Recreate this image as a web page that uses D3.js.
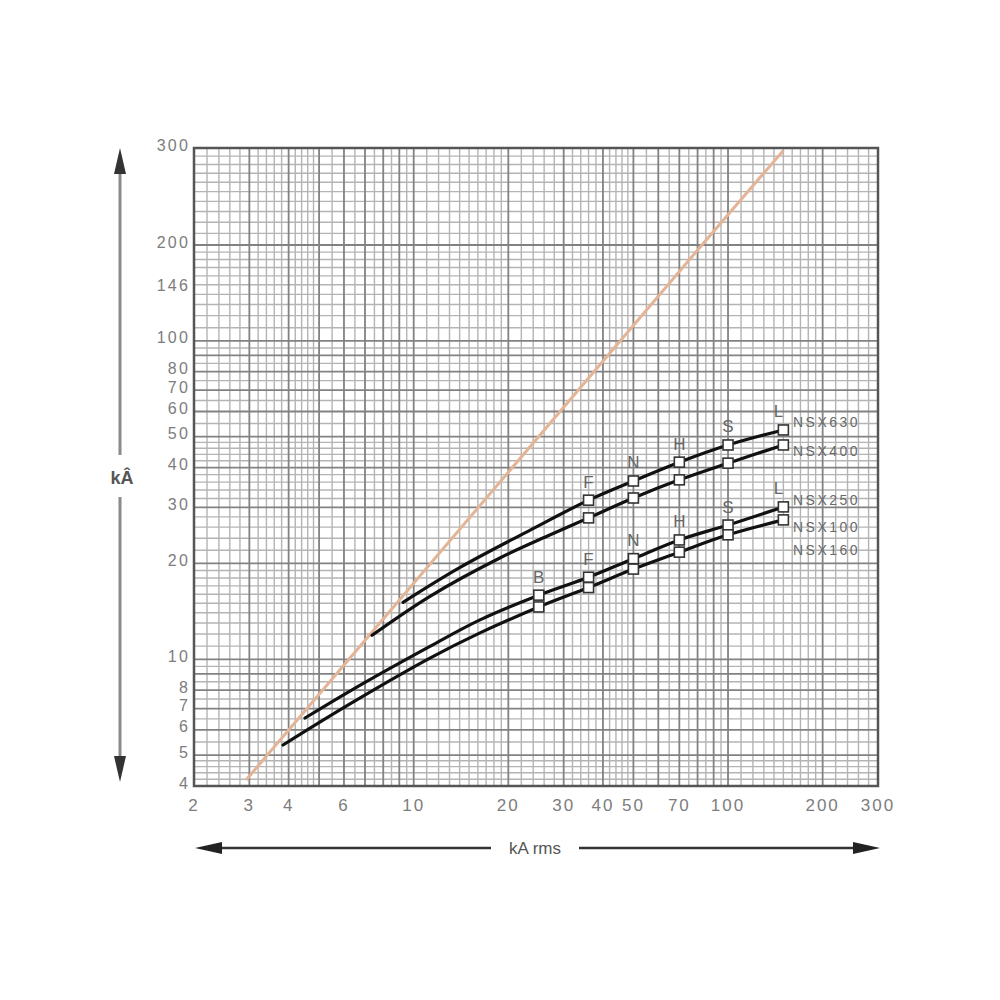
<!DOCTYPE html>
<html>
<head>
<meta charset="utf-8">
<script src="https://cdn.jsdelivr.net/npm/d3@7"></script>
<style>
  html, body { margin: 0; padding: 0; background: #fff; }
  svg { display: block; }
</style>
</head>
<body>
<svg id="chart" width="1000" height="1000"></svg>
<script>
// ---------- DATA ----------
const xTickValues = [2, 3, 4, 6, 10, 20, 30, 40, 50, 70, 100, 200, 300];
const yTickValues = [4, 5, 6, 7, 8, 10, 20, 30, 40, 50, 60, 70, 80, 100, 146, 200, 300];

const breakCodes = ["B", "F", "N", "H", "S", "L"];
const breakValues = [25, 36, 50, 70, 100, 150];

const nsx630X = [9.25, 14.0, 23.4, 36, 50, 70, 100, 150];
const nsx630Y = [15.1, 19.4, 25.4, 31.6, 36.3, 41.6, 47.1, 52.5];
const nsx400X = [7.37, 11.3, 18.8, 27.2, 36, 50, 70, 100, 150];
const nsx400Y = [11.9, 15.8, 20.8, 24.6, 27.8, 32.1, 36.6, 41.3, 47.1];
const nsx250X = [4.51, 6.27, 11.3, 16.25, 25, 36, 50, 70, 100, 150];
const nsx250Y = [6.54, 7.95, 11.0, 13.3, 15.9, 18.1, 20.7, 23.7, 26.4, 30.1];
const nsx100X = [3.84, 6.27, 11.3, 16.25, 25, 36, 50, 70, 100, 150];
const nsx100Y = [5.38, 7.24, 10.1, 12.1, 14.6, 16.8, 19.2, 21.7, 24.6, 27.4];

const peakLineX = [2.93, 82.6, 150];
const peakLineY = [4.18, 200, 297];

const seriesNames = ["NSX630", "NSX400", "NSX250", "NSX100", "NSX160"];
const yAxisTitle = "kÂ";
const xAxisTitle = "kA rms";

// ---------- LAYOUT ----------
const svg = d3.select("#chart");
const L = 194, R = 878, T = 148, B = 786;

const x = d3.scaleLog().domain([2, 300]).range([L, R]);
const y = d3.scaleLog().domain([4, 200, 300]).range([B, 245, T]);

// grid values
function gridValues(min, max, topStepOverride) {
  const out = [];
  for (let d = 1; d <= 100; d *= 10) {
    const segs = [[1, 2, 0.1], [2, 5, 0.2], [5, 10, 0.5]];
    segs.forEach(([a, b, s]) => {
      for (let m = a; m < b - 1e-9; m += s) {
        const v = +(m * d).toFixed(6);
        if (v >= min - 1e-9 && v <= max + 1e-9) out.push({v, major: Math.abs(m - Math.round(m)) < 1e-6});
      }
    });
  }
  out.push({v: max, major: true});
  if (topStepOverride) {
    const f = out.filter(o => o.v <= topStepOverride.from);
    for (let v = topStepOverride.from + topStepOverride.step; v < max; v += topStepOverride.step) {
      f.push({v, major: Math.abs(v / 100 - Math.round(v / 100)) < 1e-6});
    }
    f.push({v: max, major: true});
    return f;
  }
  return out;
}
const xGrid = gridValues(2, 300);
const yGrid = gridValues(4, 300, {from: 200, step: 10});

const g = svg.append("g");
const minorColor = "#b4b4b4", majorColor = "#828282";
g.append("g").selectAll("line").data(xGrid.filter(d => !d.major)).join("line")
  .attr("x1", d => x(d.v)).attr("x2", d => x(d.v)).attr("y1", T).attr("y2", B)
  .attr("stroke", minorColor).attr("stroke-width", 1.4);
g.append("g").selectAll("line").data(yGrid.filter(d => !d.major)).join("line")
  .attr("y1", d => y(d.v)).attr("y2", d => y(d.v)).attr("x1", L).attr("x2", R)
  .attr("stroke", minorColor).attr("stroke-width", 1.4);
g.append("g").selectAll("line").data(xGrid.filter(d => d.major)).join("line")
  .attr("x1", d => x(d.v)).attr("x2", d => x(d.v)).attr("y1", T).attr("y2", B)
  .attr("stroke", majorColor).attr("stroke-width", 1.8);
g.append("g").selectAll("line").data(yGrid.filter(d => d.major)).join("line")
  .attr("y1", d => y(d.v)).attr("y2", d => y(d.v)).attr("x1", L).attr("x2", R)
  .attr("stroke", majorColor).attr("stroke-width", 1.8);
svg.append("rect").attr("x", L).attr("y", T).attr("width", R - L).attr("height", B - T)
  .attr("fill", "none").attr("stroke", "#555").attr("stroke-width", 2.5);

// tick labels
const tickFont = "Liberation Sans, Arial, sans-serif";
svg.append("g").selectAll("text").data(yTickValues).join("text")
  .attr("x", 190).attr("y", d => y(d) - 3)
  .attr("text-anchor", "end").attr("dominant-baseline", "central")
  .attr("font-family", tickFont).attr("font-size", 16).attr("letter-spacing", 2.2)
  .attr("fill", "#7d7d7d").text(d => d);
svg.append("g").selectAll("text").data(xTickValues).join("text")
  .attr("x", d => x(d)).attr("y", 805)
  .attr("text-anchor", "middle").attr("dominant-baseline", "central")
  .attr("font-family", tickFont).attr("font-size", 17).attr("letter-spacing", 2)
  .attr("fill", "#7d7d7d").text(d => d);

// peak line
const line = d3.line().x(d => x(d[0])).y(d => y(d[1]));
svg.append("path").datum(d3.zip(peakLineX, peakLineY)).attr("d", line)
  .attr("fill", "none").attr("stroke", "#e4b497").attr("stroke-width", 3);

// curves
const curveLine = d3.line().x(d => x(d[0])).y(d => y(d[1])).curve(d3.curveCatmullRom.alpha(0.5));
const curves = [
  {xs: nsx630X, ys: nsx630Y},
  {xs: nsx400X, ys: nsx400Y},
  {xs: nsx250X, ys: nsx250Y},
  {xs: nsx100X, ys: nsx100Y}
];
curves.forEach(c => {
  svg.append("path").datum(d3.zip(c.xs, c.ys)).attr("d", curveLine)
    .attr("fill", "none").attr("stroke", "#111").attr("stroke-width", 3.2)
    .attr("stroke-linecap", "round");
});
curves.forEach(c => {
  const pts = d3.zip(c.xs, c.ys).filter(p => breakValues.includes(p[0]));
  svg.append("g").selectAll("rect").data(pts).join("rect")
    .attr("x", d => x(d[0]) - 5).attr("y", d => y(d[1]) - 5)
    .attr("width", 10).attr("height", 10)
    .attr("fill", "#fff").attr("stroke", "#333").attr("stroke-width", 1.6);
});

// breaking capacity letters
function letters(c) {
  const pts = d3.zip(c.xs, c.ys).filter(p => breakValues.includes(p[0]));
  svg.append("g").selectAll("text").data(pts).join("text")
    .attr("x", d => x(d[0]) - (d[0] === 150 ? 5 : 0))
    .attr("y", d => y(d[1]) - 18)
    .attr("text-anchor", "middle").attr("dominant-baseline", "central")
    .attr("font-family", tickFont).attr("font-size", 17)
    .attr("fill", "#666").text(d => breakCodes[breakValues.indexOf(d[0])]);
}
letters(curves[0]);
letters(curves[2]);

// series labels
const labelOffsets = [-8, 6, -7, 7, 30];
const labelAnchors = [curves[0], curves[1], curves[2], curves[3], curves[3]];
svg.append("g").selectAll("text").data(seriesNames).join("text")
  .attr("x", 793)
  .attr("y", (d, i) => y(labelAnchors[i].ys[labelAnchors[i].ys.length - 1]) + labelOffsets[i])
  .attr("dominant-baseline", "central")
  .attr("font-family", tickFont).attr("font-size", 14).attr("letter-spacing", 2.5)
  .attr("fill", "#6a6a6a").text(d => d);

// vertical axis arrow
const ax = 120;
svg.append("line").attr("x1", ax).attr("x2", ax).attr("y1", 165).attr("y2", 455)
  .attr("stroke", "#8a8a8a").attr("stroke-width", 3);
svg.append("line").attr("x1", ax).attr("x2", ax).attr("y1", 497).attr("y2", 765)
  .attr("stroke", "#8a8a8a").attr("stroke-width", 3);
svg.append("path").attr("d", `M${ax},148 L${ax - 6},174 L${ax + 6},174 Z`).attr("fill", "#333");
svg.append("path").attr("d", `M${ax},782 L${ax - 6},756 L${ax + 6},756 Z`).attr("fill", "#333");
svg.append("text").attr("x", 122).attr("y", 478)
  .attr("text-anchor", "middle").attr("dominant-baseline", "central")
  .attr("font-family", tickFont).attr("font-size", 18).attr("font-weight", "bold")
  .attr("fill", "#555").text(yAxisTitle);

// horizontal axis arrow
const ay = 848;
svg.append("line").attr("x1", 210).attr("x2", 866).attr("y1", ay).attr("y2", ay)
  .attr("stroke", "#333").attr("stroke-width", 2.5);
svg.append("path").attr("d", `M195,${ay} L222,${ay - 6} L222,${ay + 6} Z`).attr("fill", "#222");
svg.append("path").attr("d", `M880,${ay} L853,${ay - 6} L853,${ay + 6} Z`).attr("fill", "#222");
svg.append("rect").attr("x", 491).attr("y", ay - 11).attr("width", 88).attr("height", 22).attr("fill", "#fff");
svg.append("text").attr("x", 535).attr("y", ay)
  .attr("text-anchor", "middle").attr("dominant-baseline", "central")
  .attr("font-family", tickFont).attr("font-size", 17)
  .attr("fill", "#555").text(xAxisTitle);
</script>
</body>
</html>
